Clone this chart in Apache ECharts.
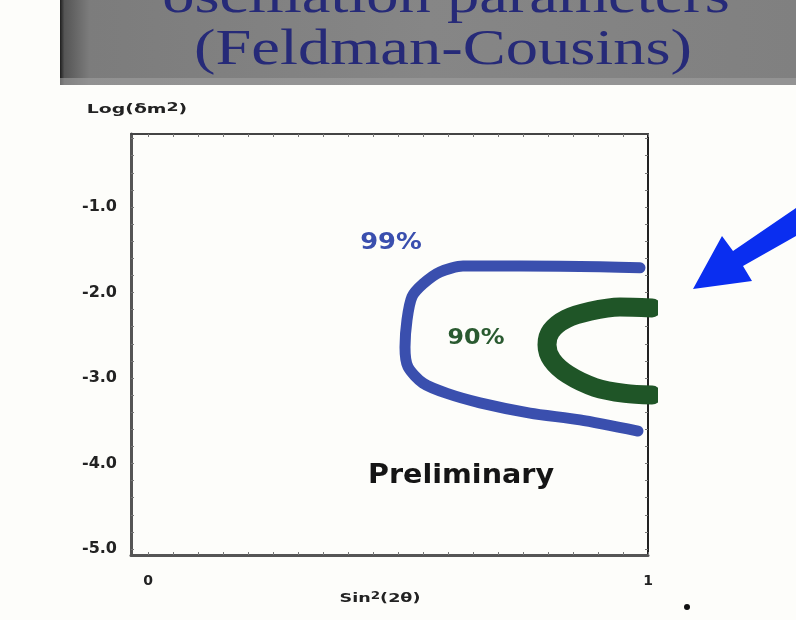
<!DOCTYPE html>
<html>
<head>
<meta charset="utf-8">
<script src="https://cdn.jsdelivr.net/npm/echarts@6/dist/echarts.min.js"></script>
<style>
html,body{margin:0;padding:0;background:#fdfdfa;}
#c{width:796px;height:620px;}
</style>
</head>
<body>
<div id="c"></div>
<script>
// 99% C.L. contour (sin^2 2theta, log dm^2)
var c99X = [0.984, 0.904, 0.744, 0.630, 0.584, 0.550, 0.528, 0.518, 0.514, 0.520, 0.550, 0.598, 0.664, 0.764, 0.864, 0.980];
var c99Y = [-1.71, -1.70, -1.69, -1.69, -1.76, -1.90, -2.05, -2.32, -2.64, -2.87, -3.06, -3.18, -3.29, -3.41, -3.49, -3.62];
// 90% C.L. contour
var c90X = [1.008, 0.944, 0.884, 0.836, 0.806, 0.798, 0.808, 0.840, 0.894, 0.954, 1.008];
var c90Y = [-2.18, -2.17, -2.22, -2.31, -2.45, -2.61, -2.79, -2.96, -3.11, -3.18, -3.20];
// tick labels
var xLabels = [0, 1];
var yLabels = [-1, -2, -3, -4, -5];
var titleLines = ['oscillation parameters', '(Feldman-Cousins)'];

function zip(a, b) { return a.map(function (v, i) { return [v, b[i]]; }); }
var xTicks = []; for (var i = 0; i <= 20; i++) xTicks.push(+(i * 0.05).toFixed(2));
var yTicks = []; for (var j = 1; j <= 25; j++) yTicks.push(+(-j * 0.2).toFixed(1));

var chart = echarts.init(document.getElementById('c'), null, {renderer: 'canvas'});
var tickStyle = {show: true, inside: true, length: 3, lineStyle: {color: '#777', width: 1}};
var option = {
  backgroundColor: '#fdfdfa',
  animation: false,
  grid: {left: 131, right: 148, top: 134, bottom: 65},
  xAxis: [{
    type: 'value', min: -0.034, max: 1.0, position: 'bottom',
    axisLine: {show: true, onZero: false, lineStyle: {color: '#555', width: 3}},
    axisTick: Object.assign({customValues: xTicks}, tickStyle),
    axisLabel: {customValues: xLabels, margin: 19, fontFamily: 'DejaVu Sans', fontWeight: 'bold', fontSize: 14, color: '#222',
      formatter: function (v) { return String(v); }},
    splitLine: {show: false}
  }, {
    type: 'value', min: -0.034, max: 1.0, position: 'top',
    axisLine: {show: true, onZero: false, lineStyle: {color: '#444', width: 2}},
    axisTick: Object.assign({customValues: xTicks}, tickStyle),
    axisLabel: {show: false}, splitLine: {show: false}
  }],
  yAxis: [{
    type: 'value', min: -5.07, max: -0.146, position: 'left',
    axisLine: {show: true, onZero: false, lineStyle: {color: '#555', width: 3}},
    axisTick: Object.assign({customValues: yTicks}, tickStyle),
    axisLabel: {customValues: yLabels, margin: 14, fontFamily: 'DejaVu Sans', fontWeight: 'bold', fontSize: 16, color: '#222',
      formatter: function (v) { return v.toFixed(1); }},
    splitLine: {show: false}
  }, {
    type: 'value', min: -5.07, max: -0.146, position: 'right',
    axisLine: {show: true, onZero: false, lineStyle: {color: '#222', width: 2}},
    axisTick: Object.assign({customValues: yTicks}, tickStyle),
    axisLabel: {show: false}, splitLine: {show: false}
  }],
  series: [{
    name: '99%', type: 'line', data: zip(c99X, c99Y), smooth: 0.25, showSymbol: false, clip: false,
    lineStyle: {color: '#3a4fae', width: 11, cap: 'round', join: 'round'}
  }, {
    name: '90%', type: 'line', data: zip(c90X, c90Y), smooth: 0.3, showSymbol: false, clip: false,
    lineStyle: {color: '#1f5527', width: 19, cap: 'round', join: 'round'}
  }],
  graphic: [
    {type: 'rect', left: 60, top: 0, z: 0, shape: {width: 736, height: 85},
      style: {fill: new echarts.graphic.LinearGradient(0, 0, 1, 0, [
        {offset: 0, color: '#1e1e1e'}, {offset: 0.006, color: '#555'}, {offset: 0.04, color: '#7c7c7c'},
        {offset: 0.5, color: '#868686'}, {offset: 1, color: '#808080'}])}},
    {type: 'rect', left: 60, top: 78, z: 1, shape: {width: 736, height: 7},
      style: {fill: '#a0a0a0', opacity: 0.6}},
    {type: 'text', x: 446, y: -1, scaleX: 1.29, z: 2,
      style: {text: titleLines[0], font: '50px "Liberation Serif"', fill: '#262a78', textAlign: 'center', textVerticalAlign: 'middle'}},
    {type: 'text', x: 443, y: 51, scaleX: 1.29, z: 2,
      style: {text: titleLines[1], font: '50px "Liberation Serif"', fill: '#262a78', textAlign: 'center', textVerticalAlign: 'middle'}},
    {type: 'text', x: 137, y: 110, scaleX: 1.45, z: 5,
      style: {text: '{a|Log(δm}{s|2}{a|)}', rich: {
        a: {fontFamily: 'DejaVu Sans', fontWeight: 'bold', fontSize: 13, fill: '#222'},
        s: {fontFamily: 'DejaVu Sans', fontWeight: 'bold', fontSize: 12, fill: '#222', padding: [0, 0, 4, 0]}},
        textAlign: 'center', textVerticalAlign: 'middle'}},
    {type: 'text', x: 380, y: 599, scaleX: 1.35, z: 5,
      style: {text: '{a|Sin}{s|2}{a|(2θ)}', rich: {
        a: {fontFamily: 'DejaVu Sans', fontWeight: 'bold', fontSize: 13, fill: '#222'},
        s: {fontFamily: 'DejaVu Sans', fontWeight: 'bold', fontSize: 10, fill: '#222', padding: [0, 0, 5, 0]}},
        textAlign: 'center', textVerticalAlign: 'middle'}},
    {type: 'text', x: 391, y: 243, scaleX: 1.12, z: 5,
      style: {text: '99%', font: 'bold 23px "DejaVu Sans"', fill: '#3a4fae', textAlign: 'center', textVerticalAlign: 'middle'}},
    {type: 'text', x: 476, y: 338, scaleX: 1.08, z: 5,
      style: {text: '90%', font: 'bold 22px "DejaVu Sans"', fill: '#2a5a30', textAlign: 'center', textVerticalAlign: 'middle'}},
    {type: 'text', x: 461, y: 476, scaleX: 1.1, z: 5,
      style: {text: 'Preliminary', font: 'bold 26px "DejaVu Sans"', fill: '#151515', textAlign: 'center', textVerticalAlign: 'middle'}},
    {type: 'polygon', z: 5,
      shape: {points: [[796, 208], [733, 251], [722, 236], [693, 289], [752, 281], [743, 266], [796, 236]]},
      style: {fill: '#0a2ef0'}},
    {type: 'circle', z: 5, shape: {cx: 687, cy: 607, r: 3}, style: {fill: '#111'}}
  ]
};
chart.setOption(option);
</script>
</body>
</html>
